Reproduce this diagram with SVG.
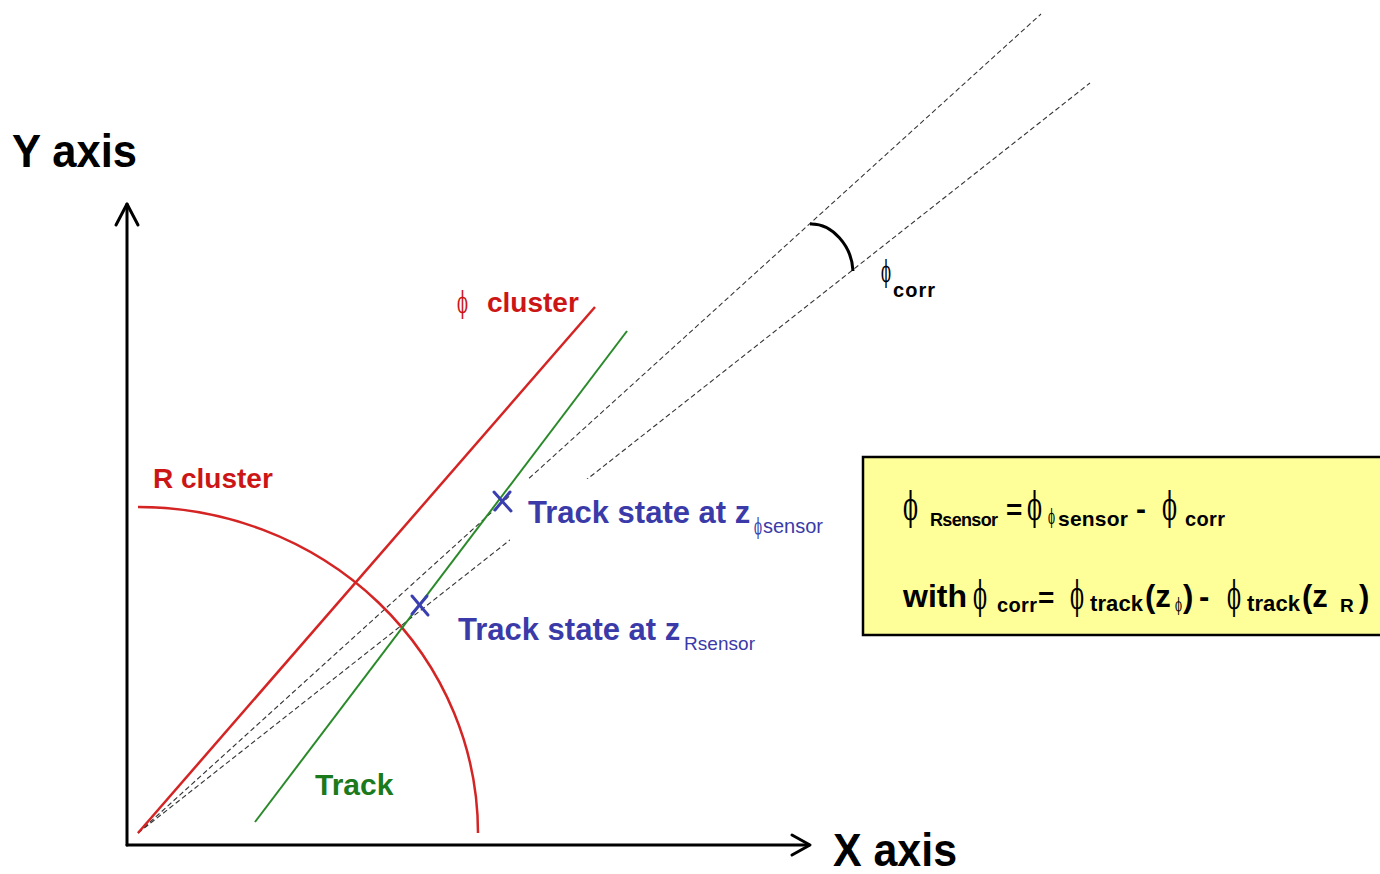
<svg xmlns="http://www.w3.org/2000/svg" width="1380" height="874" viewBox="0 0 1380 874">
<style>
.sans{font-family:"Liberation Sans","DejaVu Sans",Arial,sans-serif;font-weight:bold}
.reg{font-family:"Liberation Sans","DejaVu Sans",Arial,sans-serif;font-weight:normal}
.phi{font-family:"DejaVu Serif","Liberation Serif",serif;font-weight:normal}
.dash{stroke:#333;stroke-width:1.1;stroke-dasharray:5 3;fill:none}
.axis{stroke:#000;stroke-width:3;fill:none;stroke-linecap:round;stroke-linejoin:round}
.xm{stroke:#3a3fb0;stroke-width:3;stroke-linecap:round}
.blue{fill:#3a3aa8}
</style>
<rect width="1380" height="874" fill="#fff"/>
<g id="connectors">
  <line class="dash" x1="138" y1="833" x2="1041" y2="14"/>
  <line class="dash" x1="138" y1="833" x2="1090" y2="83"/>
  <path id="phicorr-arc" d="M810,224 C832,223 852,246 853,271" stroke="#000" stroke-width="3" fill="none"/>
</g>
<rect x="510" y="479" width="320" height="62" fill="#fff"/>
<g id="axes">
  <line class="axis" x1="127" y1="845" x2="127" y2="204"/>
  <polyline class="axis" points="116,225 127,204 138,225"/>
  <line class="axis" x1="127" y1="845" x2="809" y2="845"/>
  <polyline class="axis" points="792,835 810,845 792,855"/>
  <text class="sans" x="12" y="167" font-size="47" textLength="125" lengthAdjust="spacingAndGlyphs">Y axis</text>
  <text class="sans" x="833" y="866" font-size="46" textLength="124" lengthAdjust="spacingAndGlyphs">X axis</text>
</g>
<g id="r-cluster">
  <path d="M138,507 A340,326 0 0 1 478,833" stroke="#d42424" stroke-width="2.5" fill="none"/>
  <text class="sans" x="153" y="488" font-size="28" fill="#cc1616">R cluster</text>
</g>
<g id="phi-cluster">
  <line x1="138" y1="833" x2="595" y2="307" stroke="#d42424" stroke-width="2.5"/>
  <text class="phi" x="457" y="313" font-size="29" fill="#cc1616" textLength="11" lengthAdjust="spacingAndGlyphs">ϕ</text>
  <text class="sans" x="487" y="312" font-size="28" fill="#cc1616">cluster</text>
</g>
<g id="track">
  <line x1="255" y1="822" x2="627" y2="331" stroke="#2a8a2a" stroke-width="2"/>
  <text class="sans" x="315" y="795" font-size="30" fill="#1b7a1b">Track</text>
</g>
<g id="state-phi">
  <line class="xm" x1="494" y1="492" x2="511" y2="511"/>
  <line class="xm" x1="510" y1="492" x2="495" y2="510"/>
  <text class="sans blue" x="528" y="523" font-size="31">Track state at z</text>
  <text class="phi blue" x="754" y="534" font-size="22" textLength="8" lengthAdjust="spacingAndGlyphs">ϕ</text>
  <text class="reg blue" x="763" y="533" font-size="20" textLength="60">sensor</text>
</g>
<g id="state-r">
  <line class="xm" x1="412" y1="596" x2="428" y2="615"/>
  <line class="xm" x1="427" y1="596" x2="412" y2="614"/>
  <text class="sans blue" x="458" y="640" font-size="31">Track state at z</text>
  <text class="reg blue" x="684" y="650" font-size="19" textLength="71">Rsensor</text>
</g>
<g id="phicorr-label">
  <text class="phi" x="881" y="282" font-size="30" textLength="10" lengthAdjust="spacingAndGlyphs">ϕ</text>
  <text class="sans" x="893" y="297" font-size="20" textLength="42">corr</text>
</g>
<g id="formula">
  <rect x="863" y="457" width="530" height="178" fill="#ffff99" stroke="#000" stroke-width="2.5"/>
  <text class="phi" x="903" y="520" font-size="39" textLength="15" lengthAdjust="spacingAndGlyphs">ϕ</text>
  <text class="sans" x="930" y="526" font-size="18" textLength="68">Rsensor</text>
  <text class="sans" x="1006" y="519" font-size="28">=</text>
  <text class="phi" x="1027" y="520" font-size="39" textLength="15" lengthAdjust="spacingAndGlyphs">ϕ</text>
  <text class="phi" x="1048" y="524" font-size="20" textLength="7" lengthAdjust="spacingAndGlyphs">ϕ</text>
  <text class="sans" x="1058" y="526" font-size="21" textLength="70">sensor</text>
  <text class="sans" x="1136" y="519" font-size="30">-</text>
  <text class="phi" x="1162" y="520" font-size="39" textLength="15" lengthAdjust="spacingAndGlyphs">ϕ</text>
  <text class="sans" x="1185" y="526" font-size="20" textLength="40">corr</text>

  <text class="sans" x="903" y="607" font-size="32" textLength="64">with</text>
  <text class="phi" x="973" y="609" font-size="40" textLength="14" lengthAdjust="spacingAndGlyphs">ϕ</text>
  <text class="sans" x="997" y="612" font-size="20" textLength="40">corr</text>
  <text class="sans" x="1038" y="607" font-size="28">=</text>
  <text class="phi" x="1070" y="609" font-size="40" textLength="14" lengthAdjust="spacingAndGlyphs">ϕ</text>
  <text class="sans" x="1090" y="611" font-size="22" textLength="53">track</text>
  <text class="sans" x="1145" y="607" font-size="31">(z</text>
  <text class="phi" x="1175" y="611" font-size="18" textLength="7" lengthAdjust="spacingAndGlyphs">ϕ</text>
  <text class="sans" x="1183" y="607" font-size="31">)</text>
  <text class="sans" x="1199" y="607" font-size="31">-</text>
  <text class="phi" x="1227" y="609" font-size="40" textLength="14" lengthAdjust="spacingAndGlyphs">ϕ</text>
  <text class="sans" x="1247" y="611" font-size="22" textLength="53">track</text>
  <text class="sans" x="1302" y="607" font-size="31">(z</text>
  <text class="sans" x="1340" y="612" font-size="19">R</text>
  <text class="sans" x="1359" y="607" font-size="31">)</text>
</g>
</svg>
